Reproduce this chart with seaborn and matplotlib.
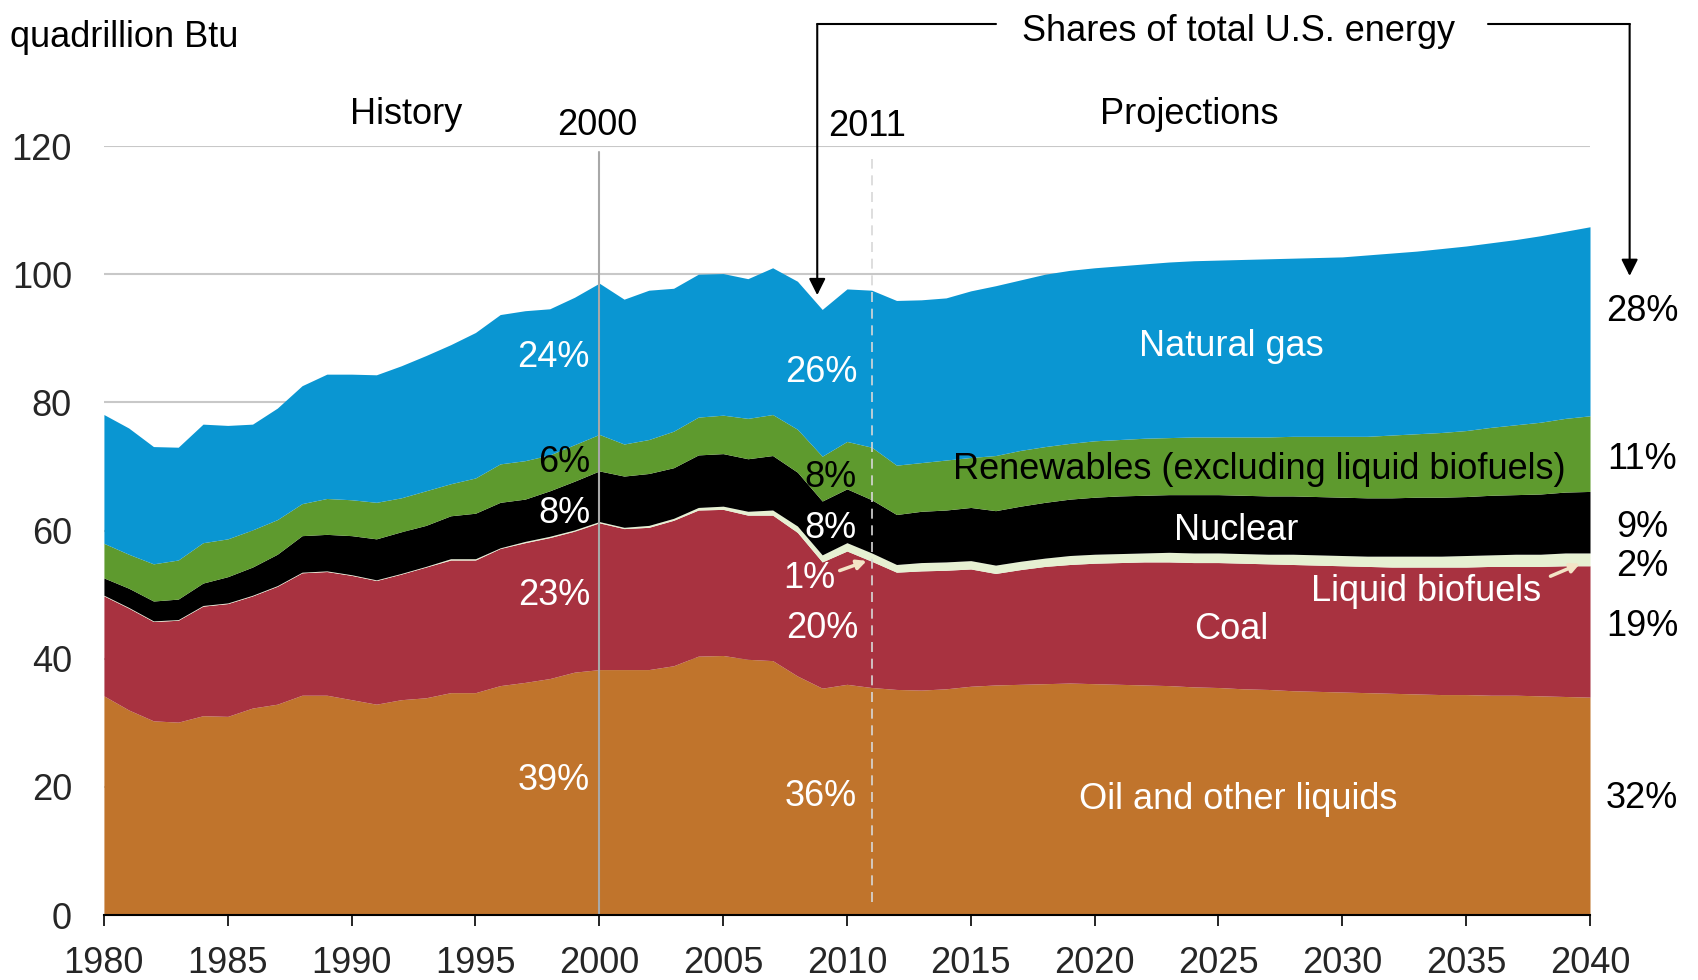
import numpy as np
import pandas as pd
import seaborn as sns
import matplotlib.pyplot as plt

years = list(range(1980, 2041))

oil = [34.2, 32.0, 30.3, 30.1, 31.1, 31.0, 32.3, 32.9, 34.3, 34.3,
       33.6, 32.9, 33.6, 33.9, 34.7, 34.7, 35.8, 36.3, 36.9, 37.9,
       38.3, 38.3, 38.3, 38.9, 40.4, 40.5, 39.9, 39.7, 37.3, 35.4,
       36.0, 35.5, 35.2, 35.1, 35.3, 35.7, 35.9, 36.0, 36.1, 36.2,
       36.1, 36.0, 35.9, 35.8, 35.6, 35.5, 35.3, 35.2, 35.0, 34.9,
       34.8, 34.7, 34.6, 34.5, 34.4, 34.4, 34.3, 34.3, 34.2, 34.1, 34.0]
coal = [15.6, 15.9, 15.5, 15.9, 17.1, 17.6, 17.5, 18.4, 19.1, 19.3,
        19.4, 19.3, 19.6, 20.4, 20.7, 20.7, 21.4, 21.8, 22.0, 22.0,
        22.9, 22.0, 22.2, 22.7, 22.8, 22.8, 22.5, 22.7, 22.4, 19.7,
        20.8, 19.7, 18.3, 18.6, 18.5, 18.3, 17.4, 17.9, 18.3, 18.5,
        18.8, 19.0, 19.2, 19.3, 19.4, 19.5, 19.6, 19.6, 19.7, 19.7,
        19.7, 19.7, 19.7, 19.8, 19.9, 19.9, 20.1, 20.1, 20.2, 20.4, 20.5]
biofuels = [0.1, 0.1, 0.1, 0.1, 0.1, 0.1, 0.1, 0.1, 0.1, 0.1,
            0.1, 0.1, 0.1, 0.1, 0.2, 0.2, 0.1, 0.2, 0.2, 0.2,
            0.2, 0.2, 0.3, 0.3, 0.4, 0.5, 0.6, 0.8, 1.0, 1.1,
            1.3, 1.3, 1.2, 1.3, 1.3, 1.3, 1.3, 1.3, 1.3, 1.4,
            1.4, 1.4, 1.4, 1.5, 1.5, 1.5, 1.5, 1.5, 1.6, 1.6,
            1.6, 1.6, 1.7, 1.7, 1.7, 1.8, 1.8, 1.9, 1.9, 2.0, 2.0]
nuclear = [2.7, 3.0, 3.1, 3.2, 3.5, 4.1, 4.4, 4.9, 5.7, 5.7,
           6.1, 6.4, 6.5, 6.4, 6.7, 7.1, 7.1, 6.6, 7.1, 7.6,
           7.9, 8.0, 8.1, 7.9, 8.2, 8.2, 8.2, 8.5, 8.4, 8.4,
           8.4, 8.3, 7.8, 8.0, 8.1, 8.3, 8.5, 8.6, 8.7, 8.8,
           8.9, 9.0, 9.0, 9.0, 9.1, 9.1, 9.1, 9.1, 9.1, 9.1,
           9.1, 9.1, 9.1, 9.2, 9.2, 9.2, 9.3, 9.3, 9.4, 9.5, 9.6]
renewables = [5.4, 5.3, 5.8, 6.1, 6.3, 5.9, 5.8, 5.4, 5.0, 5.6,
              5.6, 5.7, 5.3, 5.4, 5.0, 5.5, 6.0, 6.0, 5.6, 5.7,
              5.7, 5.0, 5.3, 5.7, 5.9, 6.0, 6.3, 6.4, 6.7, 7.0,
              7.4, 8.2, 7.7, 7.6, 7.8, 7.8, 8.6, 8.7, 8.7, 8.7,
              8.8, 8.8, 8.9, 8.9, 9.0, 9.0, 9.1, 9.2, 9.3, 9.4,
              9.5, 9.6, 9.8, 9.9, 10.1, 10.3, 10.6, 10.9, 11.2, 11.5, 11.8]
natural_gas = [20.1, 19.7, 18.3, 17.6, 18.5, 17.7, 16.5, 17.4, 18.4, 19.4,
               19.6, 19.9, 20.6, 21.1, 21.7, 22.7, 23.3, 23.4, 22.8, 23.0,
               23.6, 22.6, 23.3, 22.3, 22.3, 22.1, 21.8, 22.9, 23.1, 22.9,
               23.8, 24.5, 25.7, 25.4, 25.3, 26.0, 26.5, 26.6, 26.9, 27.0,
               27.0, 27.1, 27.2, 27.4, 27.5, 27.6, 27.7, 27.8, 27.8, 27.9,
               28.0, 28.3, 28.4, 28.5, 28.7, 28.8, 28.8, 28.9, 29.1, 29.2, 29.5]

share_2000 = ["39%", "23%", "8%", "6%", "24%"]
share_2011 = ["36%", "20%", "1%", "8%", "8%", "26%"]
share_2040 = ["32%", "19%", "2%", "9%", "11%", "28%"]

df = pd.DataFrame({"year": years, "Oil and other liquids": oil, "Coal": coal,
                   "Liquid biofuels": biofuels, "Nuclear": nuclear,
                   "Renewables": renewables, "Natural gas": natural_gas})
series = ["Oil and other liquids", "Coal", "Liquid biofuels", "Nuclear", "Renewables", "Natural gas"]
colors = ["#C0742C", "#A83240", "#E6F0D2", "#000000", "#5E9A2E", "#0A96D2"]

sns.set_style("white")
plt.rcParams['font.family'] = ['Liberation Sans', 'DejaVu Sans']
FS = 26
DY = 0.55  # small nudge so text centres sit like the reference

fig = plt.figure(figsize=(16.98, 9.8), dpi=100)
ax = fig.add_axes([0.0612, 0.0663, 0.8752, 0.7847])

for yv in range(20, 121, 20):
    ax.axhline(yv, color="#c8c8c8", lw=1.5, zorder=0)

ax.stackplot(df["year"], *[df[s] for s in series], colors=colors, lw=0, zorder=2)

ax.set_xlim(1980, 2040)
ax.set_ylim(0, 120)
ax.set_xticks(range(1980, 2041, 5))
ax.set_yticks(range(0, 121, 20))
for side in ["top", "right", "left"]:
    ax.spines[side].set_visible(False)
ax.spines["bottom"].set_color("black")
ax.spines["bottom"].set_linewidth(1.5)
ax.spines["bottom"].set_zorder(5)
ax.tick_params(axis="x", length=8, width=1.2, color="black", direction="out", pad=14, labelsize=FS, bottom=True)
ax.tick_params(axis="y", length=0, pad=23, labelsize=FS)
ax.set_xlabel("")
ax.set_ylabel("")

# history / projections dividers
ax.plot([2000, 2000], [0, 119], color="#a8a8a8", lw=1.5, zorder=4, clip_on=False)
ax.plot([2011, 2011], [2, 118], color="#d8d8d8", lw=1.2, ls=(0, (6, 4)), zorder=4, clip_on=False)


def label(x, y, s, color="black", ha="center"):
    ax.text(x, y - DY, s, color=color, fontsize=FS, ha=ha, va="center", clip_on=False)


label(1976.2, 137.5, "quadrillion Btu", ha="left")
label(1992.2, 125.5, "History")
label(1999.9, 123.8, "2000")
label(2010.8, 123.6, "2011")
label(2023.8, 125.5, "Projections")
label(2025.8, 138.4, "Shares of total U.S. energy")

# bracket with arrows
ax.plot([2008.8, 2016.0], [139.1, 139.1], color="black", lw=1.5, clip_on=False)
ax.plot([2035.9, 2041.6], [139.1, 139.1], color="black", lw=1.5, clip_on=False)
ax.annotate("", xy=(2008.8, 96.3), xytext=(2008.8, 139.35),
            arrowprops=dict(arrowstyle="-|>", color="black", lw=1.5, mutation_scale=25), annotation_clip=False)
ax.annotate("", xy=(2041.6, 99.3), xytext=(2041.6, 139.35),
            arrowprops=dict(arrowstyle="-|>", color="black", lw=1.5, mutation_scale=25), annotation_clip=False)

# shares for 2000
pos_2000 = [(1998.15, 21.6, "white"), (1998.2, 50.4, "white"), (1998.6, 63.2, "white"),
            (1998.6, 71.2, "black"), (1998.15, 87.5, "white")]
for (x, y, c), s in zip(pos_2000, share_2000):
    label(x, y, s, c)

# shares for 2011
pos_2011 = [(2008.95, 19.1, "white"), (2009.0, 45.3, "white"), (2008.5, 53.1, "white"),
            (2009.35, 60.8, "white"), (2009.35, 68.8, "black"), (2008.95, 85.2, "white")]
for (x, y, c), s in zip(pos_2011, share_2011):
    label(x, y, s, c)

# shares for 2040
pos_2040 = [18.8, 45.6, 54.9, 61.0, 71.7, 94.8]
for y, s in zip(pos_2040, share_2040):
    label(2042.1, y, s)

# series labels
label(2025.5, 89.2, "Natural gas", "white")
label(2026.65, 70.1, "Renewables (excluding liquid biofuels)")
label(2025.7, 60.5, "Nuclear", "white")
label(2033.4, 51.0, "Liquid biofuels", "white")
label(2025.5, 45.1, "Coal", "white")
label(2025.8, 18.6, "Oil and other liquids", "white")

arrow_col = "#F3E4C6"
ax.annotate("", xy=(2010.9, 55.4), xytext=(2009.6, 53.6),
            arrowprops=dict(arrowstyle="-|>", color=arrow_col, lw=2.5, mutation_scale=14))
ax.annotate("", xy=(2039.7, 55.0), xytext=(2038.3, 52.7),
            arrowprops=dict(arrowstyle="-|>", color=arrow_col, lw=2.5, mutation_scale=14))

plt.savefig("out.png", dpi=100)
plt.close()
